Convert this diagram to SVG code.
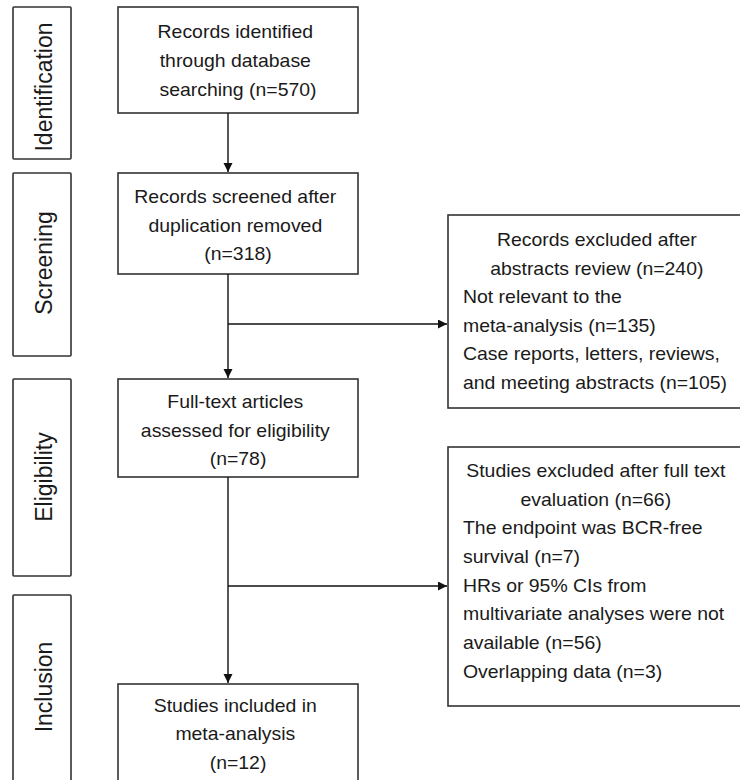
<svg xmlns="http://www.w3.org/2000/svg" width="740" height="780" viewBox="0 0 740 780">
<style>
.box{fill:#fff;stroke:#333;stroke-width:1.6}
.t{font-family:"Liberation Sans",Arial,sans-serif;font-size:18px;fill:#1a1a1a}
.c{text-anchor:middle}
.s{text-anchor:start}
.lab{font-family:"Liberation Sans",Arial,sans-serif;font-size:23px;fill:#1a1a1a;text-anchor:middle}
.con{fill:none;stroke:#111;stroke-width:1.4}
</style>
<defs>
<marker id="ah" markerUnits="userSpaceOnUse" markerWidth="10" markerHeight="10" refX="9" refY="4.5" orient="auto">
<path d="M0,0 L9,4.5 L0,9 Z" fill="#111"/>
</marker>
</defs>
<rect width="740" height="780" fill="#fff"/>

<g id="stage-identification">
<rect class="box" x="13" y="7" width="58" height="152" rx="1"/>
<text class="lab" transform="translate(52,87) scale(1.08,1) rotate(-90)">Identification</text>
</g>
<g id="stage-screening">
<rect class="box" x="13" y="173" width="58" height="183" rx="1"/>
<text class="lab" transform="translate(52,263) scale(1.08,1) rotate(-90)">Screening</text>
</g>
<g id="stage-eligibility">
<rect class="box" x="13" y="379" width="58" height="197" rx="1"/>
<text class="lab" transform="translate(52,477) scale(1.08,1) rotate(-90)">Eligibility</text>
</g>
<g id="stage-inclusion">
<rect class="box" x="13" y="595" width="58" height="195" rx="1"/>
<text class="lab" transform="translate(52,687) scale(1.08,1) rotate(-90)">Inclusion</text>
</g>

<g id="records-identified">
<rect class="box" x="118" y="7" width="240" height="106"/>
<text class="t c" transform="translate(238,38) scale(1.08,1)">
<tspan x="0" dy="0">Records identified</tspan>
<tspan x="0" dy="29">through database</tspan>
<tspan x="0" dy="29">searching (n=570)</tspan>
</text>
</g>

<g id="records-screened">
<rect class="box" x="118" y="173" width="240" height="101"/>
<text class="t c" transform="translate(238,203) scale(1.08,1)">
<tspan x="0" dy="0">Records screened after</tspan>
<tspan x="0" dy="28.7">duplication removed</tspan>
<tspan x="0" dy="28.7">(n=318)</tspan>
</text>
</g>

<g id="full-text">
<rect class="box" x="118" y="379" width="240" height="98"/>
<text class="t c" transform="translate(238,408) scale(1.08,1)">
<tspan x="0" dy="0">Full-text articles</tspan>
<tspan x="0" dy="28.7">assessed for eligibility</tspan>
<tspan x="0" dy="28.7">(n=78)</tspan>
</text>
</g>

<g id="studies-included">
<rect class="box" x="118" y="684" width="240" height="110"/>
<text class="t c" transform="translate(238,712) scale(1.08,1)">
<tspan x="0" dy="0">Studies included in</tspan>
<tspan x="0" dy="28.5">meta-analysis</tspan>
<tspan x="0" dy="28.5">(n=12)</tspan>
</text>
</g>

<g id="records-excluded">
<rect class="box" x="448" y="215" width="310" height="193"/>
<text class="t" transform="translate(599.5,246) scale(1.08,1)">
<tspan class="c" x="0" dy="0">Records excluded after</tspan>
<tspan class="c" x="0" dy="28.6">abstracts review (n=240)</tspan>
<tspan class="s" x="-126.4" dy="28.6">Not relevant to the</tspan>
<tspan class="s" x="-126.4" dy="28.6">meta-analysis (n=135)</tspan>
<tspan class="s" x="-126.4" dy="28.6">Case reports, letters, reviews,</tspan>
<tspan class="s" x="-126.4" dy="28.6">and meeting abstracts (n=105)</tspan>
</text>
</g>

<g id="studies-excluded">
<rect class="box" x="448" y="447" width="310" height="259"/>
<text class="t" transform="translate(598.5,477) scale(1.08,1)">
<tspan class="c" x="0" dy="0">Studies excluded after full text</tspan>
<tspan class="c" x="0" dy="28.7">evaluation (n=66)</tspan>
<tspan class="s" x="-125.5" dy="28.7">The endpoint was BCR-free</tspan>
<tspan class="s" x="-125.5" dy="28.7">survival (n=7)</tspan>
<tspan class="s" x="-125.5" dy="28.7">HRs or 95% CIs from</tspan>
<tspan class="s" x="-125.5" dy="28.7">multivariate analyses were not</tspan>
<tspan class="s" x="-125.5" dy="28.7">available (n=56)</tspan>
<tspan class="s" x="-125.5" dy="28.7">Overlapping data (n=3)</tspan>
</text>
</g>

<g id="connectors">
<line class="con" x1="228" y1="113" x2="228" y2="172" marker-end="url(#ah)"/>
<line class="con" x1="228" y1="274" x2="228" y2="378" marker-end="url(#ah)"/>
<line class="con" x1="228" y1="324" x2="447" y2="324" marker-end="url(#ah)"/>
<line class="con" x1="228" y1="477" x2="228" y2="683" marker-end="url(#ah)"/>
<line class="con" x1="228" y1="586" x2="447" y2="586" marker-end="url(#ah)"/>
</g>
</svg>
